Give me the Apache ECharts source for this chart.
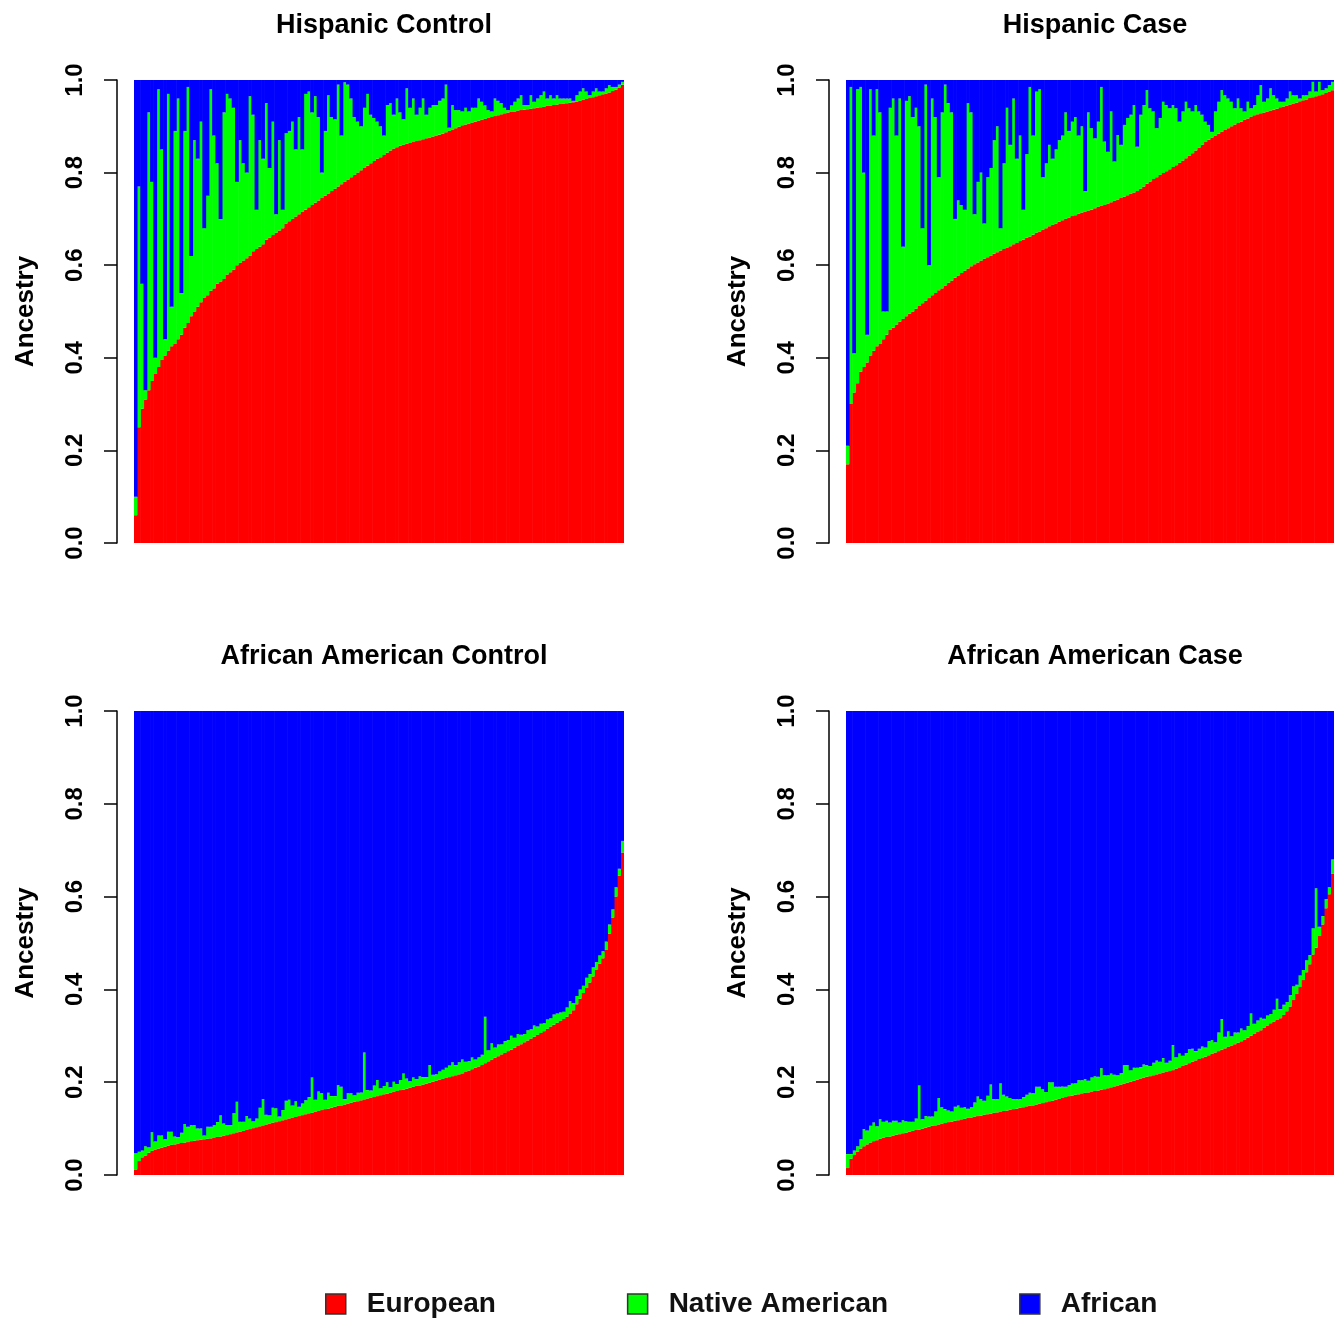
<!DOCTYPE html>
<html>
<head>
<meta charset="utf-8">
<script src="https://cdn.jsdelivr.net/npm/echarts@6/dist/echarts.min.js"></script>
<style>
html,body{margin:0;padding:0;background:#fff;}
#chart{width:1344px;height:1322px;}
</style>
</head>
<body>
<div id="chart"></div>
<script>
// ---------- DATA ----------
const TITLES = ['Hispanic Control', 'Hispanic Case', 'African American Control', 'African American Case'];
const SERIES_NAMES = ['European', 'Native American', 'African'];
const TICK_LABELS = ['0.0', '0.2', '0.4', '0.6', '0.8', '1.0'];
const Y_NAME = 'Ancestry';

// Hispanic Control (individuals sorted by European ancestry)
const HC_EUR = [
0.06,0.25,0.29,0.31,0.33,0.35,0.365,0.38,0.395,0.405,
0.415,0.425,0.43,0.44,0.45,0.465,0.475,0.49,0.50,0.51,
0.52,0.53,0.535,0.545,0.55,0.56,0.565,0.57,0.58,0.585,
0.59,0.60,0.605,0.61,0.615,0.62,0.63,0.635,0.64,0.645,
0.655,0.66,0.665,0.67,0.675,0.68,0.69,0.695,0.70,0.705,
0.71,0.715,0.72,0.725,0.73,0.735,0.74,0.745,0.75,0.755,
0.76,0.765,0.77,0.775,0.78,0.785,0.79,0.795,0.80,0.805,
0.81,0.815,0.82,0.825,0.83,0.833,0.838,0.843,0.848,0.852,
0.855,0.858,0.86,0.862,0.864,0.866,0.868,0.87,0.872,0.874,
0.876,0.878,0.88,0.882,0.884,0.887,0.89,0.893,0.896,0.899,
0.902,0.904,0.906,0.908,0.91,0.912,0.914,0.916,0.918,0.92,
0.922,0.924,0.926,0.928,0.93,0.931,0.932,0.934,0.935,0.936,
0.937,0.938,0.939,0.94,0.941,0.942,0.944,0.945,0.946,0.947,
0.948,0.949,0.95,0.951,0.952,0.953,0.955,0.957,0.959,0.961,
0.963,0.965,0.967,0.969,0.971,0.973,0.976,0.979,0.984,0.99];
const HC_AFR = [
0.90,0.23,0.44,0.67,0.07,0.22,0.60,0.02,0.15,0.56,
0.03,0.49,0.11,0.04,0.46,0.11,0.015,0.38,0.13,0.17,
0.09,0.32,0.25,0.02,0.12,0.18,0.30,0.07,0.03,0.04,
0.06,0.22,0.13,0.18,0.20,0.035,0.075,0.28,0.13,0.17,
0.05,0.19,0.09,0.29,0.13,0.28,0.115,0.11,0.09,0.15,
0.08,0.15,0.03,0.025,0.07,0.035,0.08,0.20,0.11,0.033,
0.08,0.085,0.01,0.12,0.005,0.01,0.04,0.08,0.09,0.10,
0.06,0.03,0.075,0.082,0.09,0.10,0.12,0.054,0.05,0.075,
0.04,0.07,0.085,0.018,0.06,0.04,0.075,0.06,0.04,0.075,
0.06,0.054,0.054,0.045,0.04,0.01,0.103,0.054,0.065,0.065,
0.068,0.06,0.068,0.06,0.06,0.04,0.047,0.055,0.065,0.068,
0.04,0.045,0.05,0.06,0.065,0.055,0.047,0.04,0.033,0.054,
0.054,0.033,0.047,0.04,0.033,0.025,0.04,0.033,0.04,0.033,
0.04,0.04,0.04,0.04,0.045,0.033,0.025,0.018,0.025,0.033,
0.025,0.018,0.025,0.025,0.018,0.011,0.015,0.015,0.01,0.004];

// Hispanic Case
const HK_EUR = [
0.17,0.30,0.325,0.345,0.37,0.38,0.39,0.405,0.415,0.425,
0.43,0.44,0.45,0.46,0.465,0.472,0.478,0.484,0.49,0.495,
0.50,0.506,0.512,0.518,0.523,0.529,0.535,0.54,0.546,0.55,
0.556,0.562,0.567,0.573,0.578,0.583,0.588,0.593,0.598,0.602,
0.606,0.61,0.614,0.617,0.62,0.625,0.628,0.632,0.635,0.638,
0.641,0.645,0.648,0.652,0.655,0.659,0.662,0.666,0.67,0.673,
0.677,0.68,0.684,0.687,0.69,0.694,0.697,0.70,0.703,0.706,
0.708,0.711,0.714,0.716,0.718,0.72,0.723,0.726,0.728,0.73,
0.733,0.736,0.739,0.742,0.745,0.748,0.751,0.754,0.757,0.76,
0.765,0.77,0.776,0.781,0.786,0.79,0.795,0.799,0.803,0.807,
0.812,0.816,0.821,0.826,0.831,0.836,0.842,0.848,0.854,0.86,
0.866,0.871,0.876,0.88,0.884,0.888,0.892,0.896,0.90,0.904,
0.907,0.91,0.914,0.917,0.921,0.924,0.926,0.928,0.93,0.932,
0.934,0.936,0.938,0.941,0.943,0.945,0.947,0.949,0.951,0.954,
0.956,0.958,0.961,0.963,0.965,0.967,0.969,0.972,0.975,0.978];
const HK_AFR = [
0.79,0.015,0.59,0.02,0.015,0.20,0.55,0.02,0.12,0.02,
0.07,0.50,0.50,0.06,0.04,0.12,0.04,0.36,0.045,0.035,
0.08,0.06,0.10,0.32,0.01,0.40,0.04,0.08,0.21,0.07,
0.01,0.05,0.07,0.30,0.26,0.27,0.28,0.05,0.07,0.29,
0.22,0.20,0.31,0.21,0.19,0.13,0.10,0.32,0.18,0.06,
0.14,0.04,0.17,0.12,0.28,0.16,0.015,0.12,0.025,0.02,
0.21,0.18,0.14,0.17,0.15,0.13,0.12,0.07,0.11,0.09,
0.08,0.12,0.10,0.24,0.07,0.104,0.126,0.09,0.015,0.133,
0.155,0.068,0.176,0.119,0.14,0.097,0.082,0.075,0.054,0.144,
0.075,0.054,0.022,0.061,0.068,0.104,0.082,0.047,0.054,0.061,
0.054,0.061,0.09,0.068,0.047,0.061,0.068,0.054,0.068,0.075,
0.09,0.097,0.112,0.068,0.047,0.022,0.033,0.04,0.047,0.061,
0.04,0.061,0.068,0.047,0.061,0.054,0.033,0.011,0.047,0.04,
0.018,0.033,0.04,0.047,0.047,0.04,0.025,0.033,0.033,0.04,
0.033,0.033,0.025,0.004,0.025,0.004,0.022,0.018,0.011,0.004];

// African American Control
const AC_EUR = [
0.012,0.03,0.038,0.042,0.048,0.052,0.055,0.057,0.059,0.061,
0.063,0.065,0.066,0.068,0.069,0.07,0.071,0.073,0.074,0.075,
0.076,0.077,0.078,0.079,0.081,0.082,0.083,0.085,0.086,0.088,
0.09,0.092,0.093,0.095,0.097,0.099,0.101,0.103,0.105,0.107,
0.109,0.111,0.113,0.114,0.116,0.118,0.12,0.122,0.124,0.125,
0.127,0.129,0.131,0.133,0.134,0.136,0.138,0.14,0.142,0.143,
0.145,0.147,0.149,0.15,0.152,0.154,0.156,0.158,0.159,0.161,
0.163,0.165,0.167,0.168,0.17,0.172,0.174,0.175,0.177,0.179,
0.181,0.183,0.184,0.186,0.188,0.19,0.192,0.193,0.195,0.197,
0.199,0.201,0.203,0.205,0.207,0.209,0.211,0.213,0.215,0.217,
0.219,0.222,0.225,0.228,0.231,0.234,0.237,0.241,0.245,0.249,
0.253,0.256,0.26,0.263,0.267,0.27,0.274,0.278,0.282,0.286,
0.29,0.294,0.298,0.302,0.306,0.31,0.315,0.32,0.324,0.328,
0.332,0.336,0.341,0.347,0.355,0.368,0.38,0.392,0.403,0.415,
0.428,0.443,0.455,0.467,0.485,0.52,0.555,0.60,0.645,0.695];
const AC_NAT = [
0.035,0.02,0.015,0.02,0.012,0.04,0.017,0.028,0.026,0.016,
0.03,0.028,0.017,0.014,0.022,0.04,0.033,0.034,0.033,0.025,
0.024,0.008,0.026,0.025,0.026,0.032,0.046,0.026,0.022,0.02,
0.043,0.066,0.022,0.02,0.03,0.023,0.015,0.019,0.04,0.056,
0.021,0.018,0.032,0.03,0.01,0.022,0.04,0.04,0.026,0.034,
0.02,0.025,0.03,0.035,0.076,0.026,0.042,0.036,0.02,0.034,
0.025,0.023,0.045,0.04,0.012,0.022,0.02,0.014,0.018,0.017,
0.101,0.018,0.015,0.025,0.035,0.015,0.018,0.025,0.012,0.022,
0.015,0.022,0.035,0.022,0.014,0.02,0.015,0.02,0.016,0.014,
0.038,0.015,0.014,0.018,0.02,0.022,0.025,0.03,0.022,0.026,
0.03,0.022,0.02,0.025,0.018,0.02,0.022,0.10,0.024,0.035,
0.022,0.025,0.022,0.026,0.024,0.03,0.022,0.026,0.02,0.018,
0.022,0.02,0.024,0.018,0.02,0.017,0.02,0.018,0.022,0.02,
0.018,0.016,0.02,0.028,0.015,0.018,0.02,0.016,0.022,0.018,
0.02,0.016,0.018,0.015,0.018,0.02,0.018,0.02,0.015,0.025];

// African American Case
const AK_EUR = [
0.015,0.035,0.043,0.05,0.057,0.062,0.066,0.07,0.073,0.075,
0.078,0.08,0.082,0.083,0.085,0.087,0.088,0.09,0.091,0.093,
0.095,0.097,0.098,0.10,0.102,0.104,0.106,0.107,0.109,0.111,
0.112,0.114,0.115,0.117,0.118,0.12,0.121,0.123,0.124,0.126,
0.127,0.128,0.13,0.131,0.132,0.134,0.135,0.137,0.138,0.139,
0.141,0.142,0.143,0.145,0.146,0.148,0.149,0.15,0.152,0.154,
0.155,0.157,0.159,0.16,0.162,0.164,0.166,0.168,0.17,0.171,
0.173,0.174,0.176,0.177,0.178,0.18,0.181,0.182,0.184,0.185,
0.187,0.189,0.191,0.193,0.195,0.197,0.199,0.201,0.203,0.205,
0.208,0.21,0.212,0.213,0.215,0.217,0.219,0.221,0.222,0.224,
0.226,0.229,0.232,0.235,0.238,0.241,0.244,0.247,0.25,0.252,
0.255,0.258,0.261,0.264,0.267,0.27,0.273,0.276,0.279,0.282,
0.285,0.288,0.292,0.296,0.30,0.304,0.308,0.312,0.317,0.322,
0.327,0.331,0.334,0.338,0.345,0.353,0.363,0.377,0.39,0.405,
0.42,0.437,0.454,0.475,0.49,0.515,0.54,0.575,0.605,0.65];
const AK_NAT = [
0.03,0.01,0.01,0.012,0.02,0.037,0.03,0.036,0.04,0.03,
0.042,0.035,0.035,0.03,0.032,0.03,0.025,0.028,0.025,0.022,
0.02,0.025,0.095,0.02,0.025,0.022,0.02,0.03,0.057,0.035,
0.03,0.025,0.022,0.03,0.032,0.025,0.025,0.02,0.022,0.03,
0.042,0.035,0.03,0.04,0.063,0.03,0.028,0.061,0.035,0.03,
0.025,0.022,0.02,0.018,0.022,0.025,0.028,0.026,0.038,0.036,
0.03,0.022,0.041,0.04,0.028,0.026,0.025,0.022,0.024,0.026,
0.025,0.03,0.028,0.03,0.025,0.03,0.032,0.03,0.046,0.03,
0.028,0.03,0.025,0.022,0.025,0.04,0.038,0.025,0.028,0.026,
0.025,0.028,0.025,0.022,0.027,0.03,0.025,0.031,0.02,0.022,
0.054,0.025,0.03,0.022,0.025,0.03,0.028,0.02,0.022,0.025,
0.02,0.03,0.03,0.022,0.04,0.066,0.025,0.033,0.02,0.025,
0.022,0.028,0.02,0.025,0.048,0.022,0.025,0.027,0.02,0.022,
0.02,0.025,0.046,0.02,0.022,0.02,0.025,0.03,0.02,0.025,
0.022,0.026,0.02,0.057,0.128,0.02,0.018,0.02,0.015,0.03];

// ---------- BUILD ----------
// ancestry proportions of each individual sum to 1: the third component is the remainder
function remainder(a, b) { return a.map((v, i) => +(1 - v - b[i]).toFixed(4)); }

const COLORS = ['#ff0000', '#00ff00', '#0000ff'];
const PANELS = [
  { title: TITLES[0], eur: HC_EUR, afr: HC_AFR, box: { left: 134, top: 80, width: 490, height: 463 }, titleTop: 7 },
  { title: TITLES[1], eur: HK_EUR, afr: HK_AFR, box: { left: 846, top: 80, width: 488, height: 463 }, titleTop: 7 },
  { title: TITLES[2], eur: AC_EUR, nat: AC_NAT, box: { left: 134, top: 711, width: 490, height: 464 }, titleTop: 638 },
  { title: TITLES[3], eur: AK_EUR, nat: AK_NAT, box: { left: 846, top: 711, width: 488, height: 464 }, titleTop: 638 }
];

const grids = [], xAxes = [], yAxes = [], series = [], titles = [];
PANELS.forEach((p, k) => {
  const nat = p.nat || remainder(p.eur, p.afr);
  const afr = p.afr || remainder(p.eur, p.nat);
  const ids = p.eur.map((_, i) => String(i + 1));
  grids.push(Object.assign({ containLabel: false }, p.box));
  xAxes.push({ type: 'category', gridIndex: k, data: ids, show: false, boundaryGap: true });
  yAxes.push({
    type: 'value', gridIndex: k, min: 0, max: 1, interval: 0.2,
    position: 'left', offset: 17,
    splitLine: { show: false },
    axisLine: { show: true, lineStyle: { color: '#000', width: 1.5 } },
    axisTick: { show: true, length: 13, lineStyle: { color: '#000', width: 1.5 } },
    axisLabel: {
      rotate: 90, margin: 30, fontSize: 24, fontWeight: 'bold', color: '#000',
      formatter: v => TICK_LABELS[Math.round(v / 0.2)]
    },
    name: Y_NAME, nameLocation: 'middle', nameGap: 78, nameRotate: 90,
    nameTextStyle: { fontSize: 26, fontWeight: 'bold', color: '#000' }
  });
  [p.eur, nat, afr].forEach((d, s) => {
    series.push({
      type: 'bar', name: SERIES_NAMES[s], xAxisIndex: k, yAxisIndex: k,
      stack: 'panel' + k, data: d, barWidth: '118%', silent: true,
      itemStyle: { color: COLORS[s] },
      emphasis: { disabled: true }
    });
  });
  titles.push({
    text: p.title, left: p.box.left + p.box.width / 2, top: p.titleTop, textAlign: 'center',
    textStyle: { fontSize: 27, fontWeight: 'bold', color: '#000' }
  });
});

const chart = echarts.init(document.getElementById('chart'), null, { renderer: 'canvas' });
chart.setOption({
  animation: false,
  backgroundColor: '#ffffff',
  textStyle: { fontFamily: '"Liberation Sans", Arial, sans-serif' },
  color: COLORS,
  title: titles,
  grid: grids,
  xAxis: xAxes,
  yAxis: yAxes,
  legend: {
    data: SERIES_NAMES, left: 320, top: 1285,
    icon: 'rect', itemWidth: 20, itemHeight: 20, itemGap: 131,
    itemStyle: { borderColor: '#333', borderWidth: 1.5 },
    textStyle: { fontSize: 28, fontWeight: 'bold', color: '#111', padding: [0, 0, 0, 16] },
    selectedMode: false
  },
  tooltip: { show: false },
  series: series
});
</script>
</body>
</html>
